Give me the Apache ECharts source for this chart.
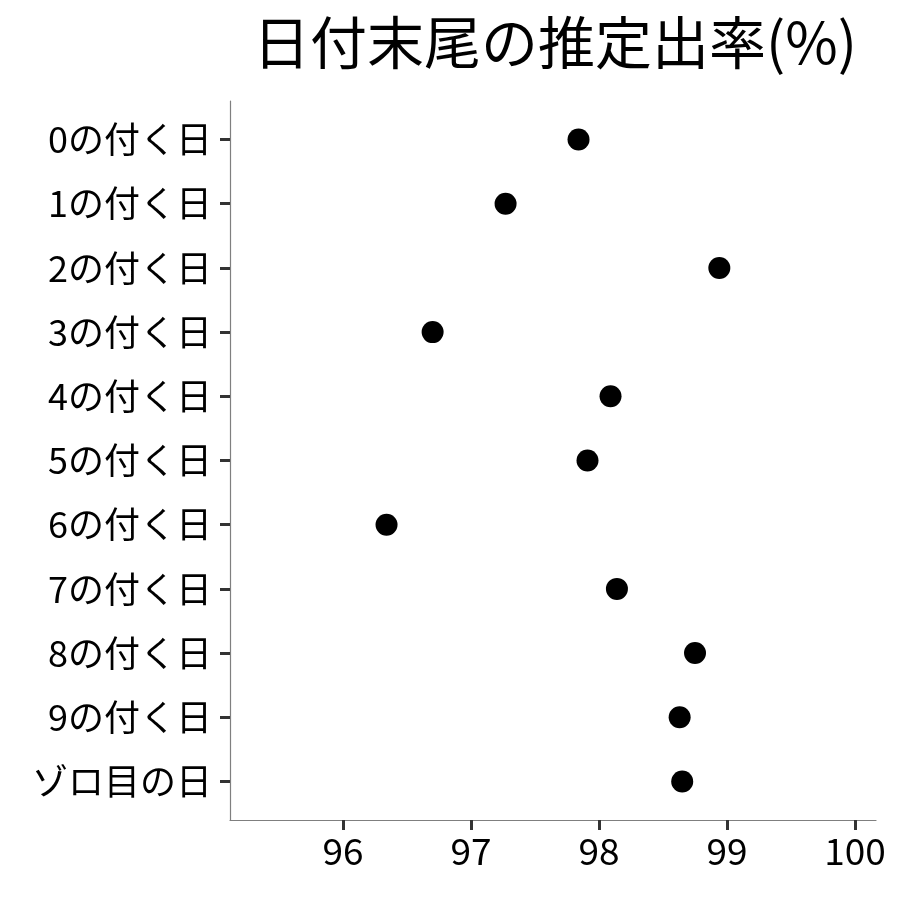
<!DOCTYPE html>
<html><head><meta charset="utf-8">
<script src="https://cdn.jsdelivr.net/npm/echarts@6/dist/echarts.min.js"></script>
<style>html,body{margin:0;padding:0;background:#fff}#c{width:900px;height:900px}</style>
</head><body><div id="c"></div>
<script>
const categories = ['0の付く日','1の付く日','2の付く日','3の付く日','4の付く日','5の付く日','6の付く日','7の付く日','8の付く日','9の付く日','ゾロ目の日'];
const rates = [97.84, 97.27, 98.94, 96.70, 98.09, 97.91, 96.34, 98.14, 98.75, 98.63, 98.65];
const xTicks = [96, 97, 98, 99, 100];
const titleText = '日付末尾の推定出率(%)';
const font = '"Noto Sans CJK JP", "Noto Sans", sans-serif';

const chart = echarts.init(document.getElementById('c'), null, {renderer: 'canvas'});
const idx = categories.map((_, i) => i);
chart.setOption({
  backgroundColor: '#fff',
  animation: false,
  title: {
    text: titleText, left: 550, top: 9, textAlign: 'center',
    textStyle: {fontFamily: font, fontSize: 57, fontWeight: 'normal', color: '#000'}
  },
  grid: {left: 230, right: 24, top: 101, bottom: 80},
  xAxis: {
    type: 'value', min: 95.117, max: 100.164,
    axisLine: {show: true, onZero: false, lineStyle: {color: '#7f7f7f', width: 1.2}},
    axisTick: {show: true, length: 10, lineStyle: {color: '#333', width: 3}, customValues: xTicks},
    axisLabel: {customValues: xTicks, fontFamily: font, fontSize: 37, color: '#000', margin: 12,
      formatter: v => String(v)},
    splitLine: {show: false}
  },
  yAxis: {
    type: 'value', min: -0.6, max: 10.6, inverse: true,
    axisLine: {show: true, onZero: false, lineStyle: {color: '#7f7f7f', width: 1.2}},
    axisTick: {show: true, length: 10, lineStyle: {color: '#333', width: 3}, customValues: idx},
    axisLabel: {customValues: idx, fontFamily: font, fontSize: 36, color: '#000', margin: 18,
      formatter: v => categories[Math.round(v)]},
    splitLine: {show: false}
  },
  series: [{
    type: 'scatter', symbol: 'circle', symbolSize: 22,
    itemStyle: {color: '#000', opacity: 1},
    data: rates.map((r, i) => [r, i])
  }]
});
</script></body></html>
